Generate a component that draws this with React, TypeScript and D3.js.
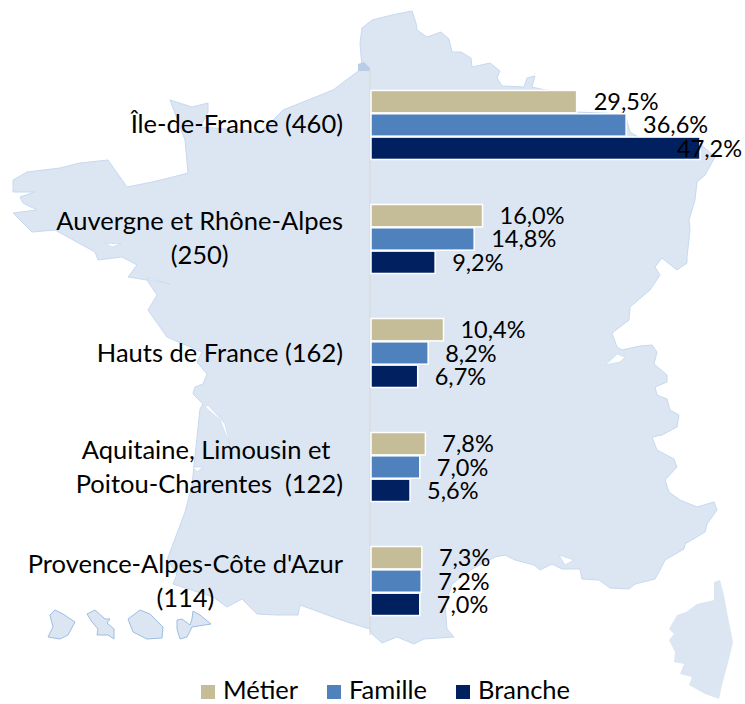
// bar chart of regions drawn over a map of France, using d3
import React, { useEffect, useRef } from 'react';
import * as d3 from 'd3';

type Pt = [number, number];

const categoryLines = [
  ['Île-de-France (460)'],
  ['Auvergne et Rhône-Alpes', '(250)'],
  ['Hauts de France (162)'],
  ['Aquitaine, Limousin et ', 'Poitou-Charentes  (122)'],
  ["Provence-Alpes-Côte d'Azur", '(114)'],
];
const seriesNames = ['Métier', 'Famille', 'Branche'];
const seriesColors = ['#C4BD97', '#4F81BD', '#002060'];
const metier = [29.5, 16.0, 10.4, 7.8, 7.3];
const famille = [36.6, 14.8, 8.2, 7.0, 7.2];
const branche = [47.2, 9.2, 6.7, 5.6, 7.0];
const seriesValues = [metier, famille, branche];

// outline of the background map, traced in picture pixels
const franceOutline: Pt[] = [
  [372, 20], [392, 15], [412, 11], [416, 23], [417, 30], [427, 37], [441, 32], [449, 39], [452, 52], [461, 52],
  [471, 58], [472, 67], [490, 63], [500, 71], [497, 78], [502, 86], [524, 87], [527, 78], [535, 76], [532, 87],
  [545, 90], [570, 92], [576, 112], [625, 114], [630, 132], [640, 138], [698, 142], [715, 157], [705, 175], [697, 182], [695, 200], [689, 220], [690, 230], [687, 257],
  [687, 263], [677, 270], [662, 258], [655, 267], [660, 275], [650, 290], [630, 307], [629, 320], [612, 333], [617, 347],
  [622, 350], [640, 346], [652, 345], [657, 352], [654, 364], [667, 375], [667, 382], [655, 387], [657, 395], [667, 399],
  [670, 410], [679, 415], [677, 427], [662, 435], [652, 437], [657, 450], [674, 459], [677, 467], [665, 480], [669, 492],
  [680, 500], [697, 507], [714, 502], [717, 510], [707, 524], [705, 532], [685, 544], [684, 549], [665, 560], [660, 570],
  [655, 579], [635, 584], [629, 589], [610, 588], [599, 580], [582, 579], [580, 569], [562, 569], [552, 564], [540, 570],
  [534, 565], [515, 560], [505, 555], [495, 557], [472, 569], [452, 584], [445, 605], [447, 629], [454, 637], [424, 639],
  [414, 644], [397, 637], [382, 643], [372, 634], [370, 629], [347, 622], [333, 617], [300, 605], [298, 615], [277, 615],
  [257, 614], [242, 599], [227, 607], [213, 597], [173, 584], [177, 574], [167, 560], [185, 512], [192, 485], [200, 409],
  [203, 404], [193, 394], [195, 387], [203, 384], [207, 374], [197, 362], [202, 352], [167, 337], [148, 310], [157, 295],
  [147, 280], [128, 277], [137, 265], [122, 257], [98, 260], [95, 252], [55, 230], [32, 232], [13, 213], [37, 210],
  [23, 203], [20, 197], [35, 192], [23, 192], [13, 192], [13, 180], [27, 172], [60, 168], [80, 163], [108, 160],
  [127, 187], [152, 182], [173, 177], [188, 173], [185, 140], [170, 100], [192, 107], [208, 103], [208, 112], [200, 127],
  [240, 130], [260, 133], [283, 110], [333, 90], [357, 72], [362, 67], [360, 43], [362, 28],
];
const corsica: Pt[] = [
  [714, 582], [720, 580], [724, 595], [727, 612], [733, 642], [729, 659], [722, 685], [719, 699], [705, 694], [689, 685],
  [692, 677], [680, 674], [684, 664], [674, 662], [675, 652], [669, 640], [674, 634], [669, 629], [677, 615], [686, 612], [697, 604], [714, 600],
];
const guyane: Pt[] = [[50, 615], [55, 610], [63, 614], [75, 622], [68, 635], [60, 639], [48, 637], [53, 627]];
const martinique: Pt[] = [
  [87, 614], [95, 610], [105, 619], [110, 619], [107, 623], [114, 629], [114, 639], [108, 635], [97, 635], [98, 629], [92, 622],
];
const reunion: Pt[] = [[128, 619], [140, 610], [150, 614], [163, 627], [162, 638], [147, 639], [133, 632]];
const guadeloupe: Pt[] = [
  [177, 620], [182, 619], [190, 625], [192, 619], [193, 611], [200, 615], [211, 624], [192, 627], [187, 637], [180, 639], [177, 629],
];
const waterCuts: Pt[][] = [
  [[605, 365], [612, 359], [617, 354], [625, 357], [620, 362]],
  [[559, 555], [574, 560], [565, 565]],
  [[205, 407], [220, 420], [230, 445], [225, 424], [208, 405]],
  [[193, 467], [203, 467], [197, 472]],
  [[147, 278], [170, 284], [150, 280]],
  [[105, 243], [121, 244], [112, 247]],
];
const darkSpot: Pt[] = [[358, 64], [364, 62], [370, 68], [370, 71], [358, 71]];

const font = 'Lato, "Open Sans", sans-serif';
const labelSize = 25.5;
const valueSize = 23.5;

const App = () => {
  const ref = useRef<SVGSVGElement>(null);

  useEffect(() => {
    const svg = d3.select(ref.current);
    svg.selectAll('*').remove();

    const shape = d3.line<Pt>().curve(d3.curveLinearClosed);

    // map
    const map = svg.append('g');
    map.append('path').attr('d', shape(franceOutline)).attr('fill', '#DCE6F2').attr('stroke', '#C6D9F1').attr('stroke-width', 1);
    map.append('path').attr('d', shape(corsica)).attr('fill', '#DCE6F2');
    [guyane, martinique, reunion, guadeloupe].forEach((isle) => {
      map.append('path').attr('d', shape(isle)).attr('fill', '#DCE6F2').attr('stroke', '#9DBDE3').attr('stroke-width', 1);
    });
    waterCuts.forEach((cut) => {
      map.append('path').attr('d', shape(cut)).attr('fill', '#fff').attr('stroke', '#C6D9F1').attr('stroke-width', 0.7);
    });
    map.append('path').attr('d', shape(darkSpot)).attr('fill', '#B9CDE5');

    // scales
    const x = d3.scaleLinear().domain([0, 47.2]).range([371, 700]);
    const y = d3.scaleBand<number>().domain(d3.range(categoryLines.length)).range([68, 638]).paddingInner(0.395).paddingOuter(0.197);
    const inner = d3.scaleBand<number>().domain(d3.range(seriesNames.length)).range([0, y.bandwidth()]).paddingInner(0.04);

    // axis line
    svg.append('line').attr('x1', x(0) - 1).attr('x2', x(0) - 1).attr('y1', 70).attr('y2', 635).attr('stroke', '#D9D9D9').attr('stroke-width', 1.2);

    // bars and value labels
    seriesValues.forEach((values, s) => {
      const g = svg.append('g');
      g.selectAll('rect').data(values).enter().append('rect')
        .attr('x', x(0))
        .attr('y', (_, i) => y(i)! + inner(s)!)
        .attr('width', (d) => x(d) - x(0))
        .attr('height', inner.bandwidth())
        .attr('fill', seriesColors[s])
        .attr('stroke', '#fff')
        .attr('stroke-width', 1.5);
      g.selectAll('text').data(values).enter().append('text')
        .attr('x', (d) => (d === 47.2 ? x(d) - 23 : x(d) + 17)) // the 47,2% label sits back over its bar
        .attr('y', (_, i) => y(i)! + inner(s)! + inner.bandwidth() / 2 + 8.5)
        .attr('font-family', font)
        .attr('font-size', valueSize)
        .attr('fill', '#000')
        .text((d) => d.toFixed(1).replace('.', ',') + '%');
    });

    // category labels: block is right aligned, lines centred inside it
    const labelRight = 343;
    const firstBaseline = [133, 230, 362, 459, 573];
    categoryLines.forEach((lines, i) => {
      const t = svg.append('text')
        .attr('font-family', font)
        .attr('font-size', labelSize)
        .attr('fill', '#000')
        .attr('xml:space', 'preserve')
        .style('white-space', 'pre');
      const spans = lines.map((l, k) =>
        t.append('tspan').attr('y', firstBaseline[i] + k * 33.5).attr('x', labelRight).attr('text-anchor', 'middle').text(l)
      );
      const widths = spans.map((sp) => (sp.node() as SVGTSpanElement).getComputedTextLength());
      const widest = d3.max(widths) as number;
      spans.forEach((sp) => sp.attr('x', labelRight - widest / 2));
    });

    // legend
    const legendSquare = [201, 327, 456];
    seriesNames.forEach((name, s) => {
      svg.append('rect').attr('x', legendSquare[s]).attr('y', 685).attr('width', 14).attr('height', 14).attr('fill', seriesColors[s]);
      svg.append('text').attr('x', legendSquare[s] + 22).attr('y', 699)
        .attr('font-family', font).attr('font-size', labelSize).attr('fill', '#000').text(name);
    });
  }, []);

  return <svg ref={ref} width={745} height={704} style={{ position: 'absolute', left: 0, top: 0, background: '#fff' }} />;
};

export default App;
